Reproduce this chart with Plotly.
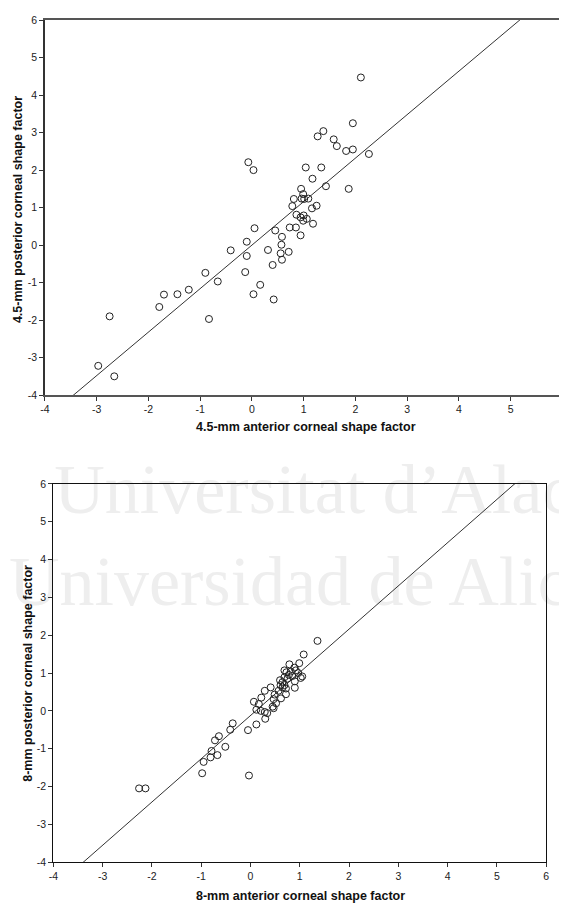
import plotly.graph_objects as go

# ---------------- data ----------------
# Top panel: 4.5-mm zone
ant45 = [-2.97, -2.75, -2.66, -1.79, -1.70, -1.44, -1.22, -0.90, -0.83, -0.66,
         -0.41, -0.07, 0.03, 0.05, -0.10, -0.10, -0.13, 0.16, 0.03, 0.42,
         0.31, 0.45, 0.58, 0.57, 0.555, 0.71, 0.40, 0.58, 0.73, 0.85,
         0.94, 0.78, 0.81, 0.86, 0.94, 1.00, 1.06, 0.99, 1.18, 0.96,
         1.01, 1.09, 0.99, 0.95, 1.16, 1.25, 1.43, 1.87, 1.04, 1.34,
         1.17, 1.27, 1.38, 1.58, 1.64, 1.82, 1.95, 1.95, 2.26, 2.105]
post45 = [-3.22, -1.90, -3.50, -1.65, -1.32, -1.31, -1.19, -0.74, -1.97, -0.97,
          -0.14, 2.21, 2.00, 0.45, 0.09, -0.29, -0.72, -1.06, -1.31, -1.45,
          -0.13, 0.39, 0.22, 0.01, -0.22, -0.18, -0.53, -0.39, 0.47, 0.47,
          0.26, 1.04, 1.23, 0.81, 0.74, 0.79, 0.70, 0.65, 0.57, 1.24,
          1.23, 1.24, 1.36, 1.50, 0.98, 1.05, 1.57, 1.50, 2.07, 2.07,
          1.77, 2.90, 3.04, 2.82, 2.64, 2.51, 2.55, 3.25, 2.43, 4.47]
fit45 = (1.16, 0.0)   # slope, intercept of the drawn line

# Bottom panel: 8-mm zone
ant8 = [-2.26, -2.13, -0.98, -0.03, -0.95, -0.81, -0.67, -0.79, -0.51, -0.72,
        -0.64, -0.41, -0.36, -0.05, 0.12, 0.30, 0.07, 0.17, 0.12, 0.21,
        0.29, 0.34, 0.22, 0.29, 0.41, 0.45, 0.47, 0.52, 0.47, 0.49,
        0.57, 0.62, 0.72, 0.61, 0.65, 0.69, 0.65, 0.72, 0.69, 0.75,
        0.73, 0.82, 0.79, 0.69, 0.89, 0.92, 0.97, 0.99, 1.05, 1.02,
        0.90, 0.90, 1.08, 1.36, 0.60, 0.78, 0.85]
post8 = [-2.05, -2.05, -1.65, -1.71, -1.35, -1.23, -1.17, -1.06, -0.95, -0.78,
         -0.67, -0.50, -0.33, -0.51, -0.36, -0.21, 0.24, 0.18, 0.03, 0.00,
         -0.03, -0.06, 0.35, 0.53, 0.62, 0.11, 0.07, 0.20, 0.31, 0.43,
         0.53, 0.33, 0.44, 0.68, 0.76, 0.68, 0.62, 0.59, 0.89, 0.85,
         1.02, 1.04, 1.23, 1.07, 1.14, 1.07, 1.00, 1.26, 0.91, 0.87,
         0.78, 0.61, 1.49, 1.85, 0.81, 0.95, 0.92]
fit8 = (1.143, -0.125)

tick_vals = [-4, -3, -2, -1, 0, 1, 2, 3, 4, 5, 6]
tick_text = [str(v) for v in tick_vals]

x_title_top = "4.5-mm anterior corneal shape factor"
y_title_top = "4.5-mm posterior corneal shape factor"
x_title_bot = "8-mm anterior corneal shape factor"
y_title_bot = "8-mm posterior corneal shape factor"
watermark = ["Universitat d\u2019Alacant", "Universidad de Alicante"]

# ---------------- figure ----------------
W, H = 562, 909
def px(x):
    return x / W
def py(y):
    return 1 - y / H

fig = go.Figure()

# background watermark in a full-page, invisible subplot (drawn first, so behind)
fig.add_trace(go.Scatter(x=[50, 4], y=[496, 589], mode="text", text=watermark,
                         textposition="middle right",
                         textfont=dict(family="Liberation Serif, Times New Roman, serif",
                                       size=70, color="#eeeeee"),
                         xaxis="x", yaxis="y", hoverinfo="skip"))

line_x = [-4, 6]
mk = dict(symbol="circle-open", size=7, line=dict(color="#222222", width=1), color="#222222")
fig.add_trace(go.Scatter(x=line_x, y=[fit45[0] * v + fit45[1] for v in line_x],
                         mode="lines", line=dict(color="#333333", width=1),
                         xaxis="x2", yaxis="y2", hoverinfo="skip"))
fig.add_trace(go.Scatter(x=ant45, y=post45, mode="markers", marker=mk,
                         xaxis="x2", yaxis="y2"))
fig.add_trace(go.Scatter(x=line_x, y=[fit8[0] * v + fit8[1] for v in line_x],
                         mode="lines", line=dict(color="#333333", width=1),
                         xaxis="x3", yaxis="y3", hoverinfo="skip"))
fig.add_trace(go.Scatter(x=ant8, y=post8, mode="markers", marker=mk,
                         xaxis="x3", yaxis="y3"))

tickfont = dict(family="Liberation Sans, Arial, sans-serif", size=10.5, color="#222222")
common = dict(tickmode="array", tickvals=tick_vals, ticktext=tick_text,
              showgrid=False, zeroline=False, ticks="outside", ticklen=4,
              tickwidth=1, tickcolor="#333333", tickfont=tickfont, showline=True)

top_xmax = -4 + (W - 40.5) / 52.5
fig.update_layout(
    xaxis=dict(domain=[0, 1], range=[0, W], visible=False, anchor="y", fixedrange=True),
    yaxis=dict(domain=[0, 1], range=[H, 0], visible=False, anchor="x", fixedrange=True),
    xaxis2=dict(domain=[px(40.5), 1.0], range=[-4, top_xmax], anchor="y2",
                linecolor="#555555", linewidth=1.5, mirror=True, **common),
    yaxis2=dict(domain=[py(394.3), py(14.3)], range=[-4, 6], anchor="x2",
                linecolor="#333333", linewidth=1.5, **common),
    xaxis3=dict(domain=[px(49), px(549)], range=[-4, 6], anchor="y3",
                linecolor="#111111", linewidth=1, mirror=True, **common),
    yaxis3=dict(domain=[py(867.6), py(484.3)], range=[-4, 6], anchor="x3",
                linecolor="#111111", linewidth=1, mirror=True, **common),
)

titlefont = dict(family="Liberation Sans, Arial, sans-serif", size=12.5, color="#111111")
ann = []
ann.append(dict(text="<b>%s</b>" % x_title_top, x=px(305), y=py(427), xref="paper", yref="paper",
                xanchor="center", yanchor="middle", showarrow=False, font=titlefont))
ann.append(dict(text="<b>%s</b>" % y_title_top, x=px(13), y=py(206), xref="paper", yref="paper",
                xanchor="center", yanchor="middle", showarrow=False, textangle=-90, font=titlefont))
ann.append(dict(text="<b>%s</b>" % x_title_bot, x=px(300), y=py(902), xref="paper", yref="paper",
                xanchor="center", yanchor="middle", showarrow=False, font=titlefont))
ann.append(dict(text="<b>%s</b>" % y_title_bot, x=px(23), y=py(676), xref="paper", yref="paper",
                xanchor="center", yanchor="middle", showarrow=False, textangle=-90, font=titlefont))

fig.update_layout(
    width=W, height=H, margin=dict(l=0, r=0, t=0, b=0),
    paper_bgcolor="white", plot_bgcolor="rgba(0,0,0,0)",
    showlegend=False, annotations=ann,
)

fig.write_html("out.html")
